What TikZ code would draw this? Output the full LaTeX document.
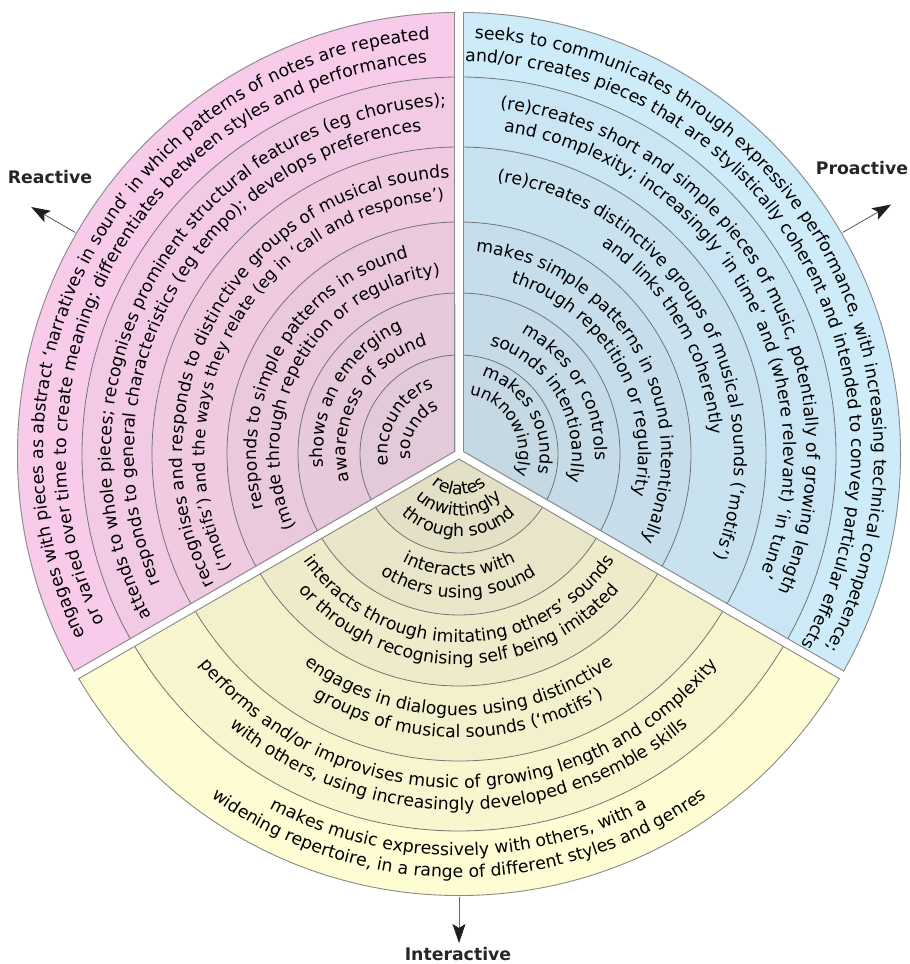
\documentclass[tikz,border=0pt]{standalone}
\usepackage{fontspec}
\setmainfont{DejaVu Sans}
\usetikzlibrary{decorations.text,arrows.meta,calc}
\definecolor{txt}{HTML}{383838}
\definecolor{ringline}{HTML}{747474}
\definecolor{border}{HTML}{8A8A8A}
% pink (inner -> outer)
\definecolor{pa0}{HTML}{E3CADA}
\definecolor{pa1}{HTML}{E6C9DB}
\definecolor{pa2}{HTML}{EAC9DE}
\definecolor{pa3}{HTML}{EFCAE1}
\definecolor{pa4}{HTML}{F3CAE5}
\definecolor{pa5}{HTML}{F8CBEA}
% blue
\definecolor{ba0}{HTML}{C4D9E4}
\definecolor{ba1}{HTML}{C5DBE7}
\definecolor{ba2}{HTML}{C6DEEB}
\definecolor{ba3}{HTML}{C8E2F0}
\definecolor{ba4}{HTML}{CAE6F4}
\definecolor{ba5}{HTML}{CDEBF8}
% yellow
\definecolor{ya0}{HTML}{E3E0C6}
\definecolor{ya1}{HTML}{E8E5C8}
\definecolor{ya2}{HTML}{EEEACA}
\definecolor{ya3}{HTML}{F3F0CC}
\definecolor{ya4}{HTML}{F9F6CF}
\definecolor{ya5}{HTML}{FEFCD2}
\tikzset{
  ringsep/.style={draw=ringline, line width=0.8pt},
  sectborder/.style={draw=border, line width=1.8pt},
  lbl/.style={font=\bfseries\fontsize{17.3}{20}\selectfont, text=black!85, inner sep=0pt},
  dirarrow/.style={draw=black!60, line width=0.9pt, -{Stealth[length=19pt,width=13pt,inset=4pt,color=black!88]}},
}
\newcommand\ArcOut[4][17.3]{{\fontsize{#1}{20}\selectfont\path[decorate, color=txt, decoration={text along path, text align=center, text={#4}}] (C) ++(#2+80:#3) arc[start angle=#2+80, end angle=#2-80, radius=#3];}}
\newcommand\ArcIn[4][17.3]{{\fontsize{#1}{20}\selectfont\path[decorate, color=txt, decoration={text along path, text align=center, text={#4}}] (C) ++(#2-80:#3) arc[start angle=#2-80, end angle=#2+80, radius=#3];}}
\newcommand\Sector[7]{%
  \begin{scope}
    \clip (C) circle (442);
    \clip ($(C)+(#1:4.62)$) -- ++(#1+60:1000) -- ++(#1-90:1732) -- cycle;
    \fill[#7] (C) circle (442);
    \fill[#6] (C) circle (377);
    \fill[#5] (C) circle (307);
    \fill[#4] (C) circle (232);
    \fill[#3] (C) circle (161);
    \fill[#2] (C) circle (99);
    \foreach \rr in {377,307,232,161,99} \draw[ringsep] (C) circle (\rr);
    \draw[sectborder] (C) circle (442);
    \draw[sectborder] ($(C)+(#1:4.62)$) -- ++(#1+60:1000) -- ++(#1-90:1732) -- cycle;
  \end{scope}}
\begin{document}
\begin{tikzpicture}[x=1pt,y=1pt]
\useasboundingbox (0,0) rectangle (910,964);
\fill[white] (0,0) rectangle (910,964);
\coordinate (C) at (459,510);

\Sector{150}{pa0}{pa1}{pa2}{pa3}{pa4}{pa5}
\Sector{30}{ba0}{ba1}{ba2}{ba3}{ba4}{ba5}
\Sector{270}{ya0}{ya1}{ya2}{ya3}{ya4}{ya5}

% Reactive (pink)
\ArcOut{150}{415.5}{engages with pieces as abstract ‘narratives in sound’ in which patterns of notes are repeated}
\ArcOut{150}{392.5}{or varied over time to create meaning; differentiates between styles and performances}
\ArcOut{150}{348}{attends to whole pieces; recognises prominent structural features (eg choruses);}
\ArcOut{150}{325}{responds to general characteristics (eg tempo); develops preferences}
\ArcOut{150}{276.5}{recognises and responds to distinctive groups of musical sounds}
\ArcOut[16.4]{150}{254.5}{(‘motifs’) and the ways they relate (eg in ‘call and response’)}
\ArcOut{150}{202.5}{responds to simple patterns in sound}
\ArcOut{150}{179.5}{(made through repetition or regularity)}
\ArcOut{150}{136}{shows an emerging}
\ArcOut{150}{113}{awareness of sound}
\ArcOut{150}{71}{encounters}
\ArcOut{150}{49}{sounds}

% Proactive (blue)
\ArcOut{30}{415.5}{seeks to communicates through expressive performance, with increasing technical competence;}
\ArcOut{30}{392.5}{and/or creates pieces that are stylistically coherent and intended to convey particular effects}
\ArcOut{30}{348}{(re)creates short and simple pieces of music, potentially of growing length}
\ArcOut{30}{325}{and complexity; increasingly ‘in time’ and (where relevant) ‘in tune’}
\ArcOut{30}{275.5}{(re)creates distinctive groups of musical sounds (‘motifs’)}
\ArcOut{30}{252.5}{and links them coherently}
\ArcOut{30}{202.5}{makes simple patterns in sound intentionally}
\ArcOut{30}{179.5}{through repetition or regularity}
\ArcOut{30}{136}{makes or controls}
\ArcOut{30}{113}{sounds intentioanlly}
\ArcOut{30}{81}{makes sounds}
\ArcOut[16.6]{30}{60}{unknowingly}

% Interactive (yellow)
\ArcIn{270}{401.5}{makes music expressively with others, with a}
\ArcIn{270}{423.5}{widening repertoire, in a range of different styles and genres}
\ArcIn{270}{334}{performs and/or improvises music of growing length and complexity}
\ArcIn{270}{356}{with others, using increasingly developed ensemble skills}
\ArcIn{270}{261.5}{engages in dialogues using distinctive}
\ArcIn{270}{283.5}{groups of musical sounds (‘motifs’)}
\ArcIn{270}{188.5}{interacts through imitating others’ sounds}
\ArcIn{270}{210.5}{or through recognising self being imitated}
\ArcIn{270}{122}{interacts with}
\ArcIn{270}{144}{others using sound}
\ArcIn{270}{41}{relates}
\ArcIn{270}{62}{unwittingly}
\ArcIn{270}{83}{through sound}

% direction arrows
\coordinate (rs) at ($(C)+(150:443)$);
\coordinate (re) at ($(C)+(150:494)$);
\coordinate (ps) at ($(C)+(30:443)$);
\coordinate (pe) at ($(C)+(30:499)$);
\coordinate (is) at ($(C)+(270:443)$);
\coordinate (ie) at ($(C)+(270:489)$);
\draw[dirarrow] (rs) -- (re);
\draw[dirarrow] (ps) -- (pe);
\draw[dirarrow] (is) -- (ie);

\node[lbl] (reactive) at (50,787) {Reactive};
\node[lbl] (proactive) at (862,796) {Proactive};
\node[lbl] (interactive) at (458,10) {Interactive};
\end{tikzpicture}
\end{document}
